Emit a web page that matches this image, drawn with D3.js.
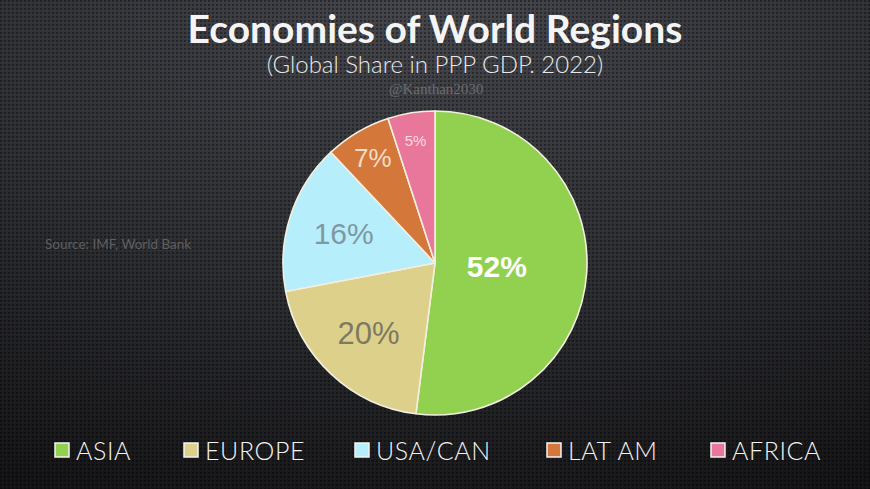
<!DOCTYPE html>
<html><head><meta charset="utf-8">
<script src="https://cdn.jsdelivr.net/npm/d3@7"></script>
<style>html,body{margin:0;padding:0;background:#222;}svg{display:block;}</style>
</head><body>
<script>
const categories = ["ASIA", "EUROPE", "USA/CAN", "LAT AM", "AFRICA"];
const values = [52, 20, 16, 7, 5];
const labels = ["52%", "20%", "16%", "7%", "5%"];
const colors = ["#92d050", "#ddd08a", "#b7eefb", "#d4773a", "#e8779b"];
const labelColors = ["#ffffff", "#7d7a62", "#7f98a2", "#f6ddc8", "#f9d9e2"];
const labelSizes = [30, 31, 30, 26, 15];
const labelWeights = ["bold", "normal", "normal", "normal", "normal"];
const labelRadii = [62, 97, 96, 122, 124];

const W = 870, H = 489;
const svg = d3.select("body").append("svg").attr("width", W).attr("height", H);
const defs = svg.append("defs");
const grad = defs.append("radialGradient").attr("id", "bg").attr("cx", "50%").attr("cy", "0%").attr("r", "110%");
grad.append("stop").attr("offset", "0%").attr("stop-color", "#45464b");
grad.append("stop").attr("offset", "55%").attr("stop-color", "#2c2d31");
grad.append("stop").attr("offset", "100%").attr("stop-color", "#131315");
const pat = defs.append("pattern").attr("id", "dots").attr("width", 4).attr("height", 4).attr("patternUnits", "userSpaceOnUse");
pat.append("rect").attr("x", 0).attr("y", 0).attr("width", 2).attr("height", 2).attr("fill", "#000").attr("opacity", 0.35);
pat.append("rect").attr("x", 2).attr("y", 2).attr("width", 1).attr("height", 1).attr("fill", "#fff").attr("opacity", 0.05);

svg.append("rect").attr("width", W).attr("height", H).attr("fill", "url(#bg)");
svg.append("rect").attr("width", W).attr("height", H).attr("fill", "url(#dots)");

const titleFont = "'Lato', 'Open Sans', sans-serif";
svg.append("text").attr("x", 435).attr("y", 43).attr("text-anchor", "middle")
  .attr("font-family", titleFont).attr("font-weight", "bold").attr("font-size", 39)
  .attr("fill", "#f4f4f4").text("Economies of World Regions");
svg.append("text").attr("x", 435).attr("y", 73).attr("text-anchor", "middle")
  .attr("font-family", titleFont).attr("font-weight", 300).attr("font-size", 24)
  .attr("fill", "#e8e8e8").text("(Global Share in PPP GDP. 2022)");
svg.append("text").attr("x", 436).attr("y", 94).attr("text-anchor", "middle")
  .attr("font-family", "'Liberation Serif', serif").attr("font-size", 15)
  .attr("fill", "#6c6c6c").text("@Kanthan2030");
svg.append("text").attr("x", 45).attr("y", 249)
  .attr("font-family", titleFont).attr("font-size", 13.5)
  .attr("fill", "#5e5e60").text("Source: IMF, World Bank");

const cx = 435, cy = 263, R = 152;
const pie = d3.pie().sort(null).value(d => d);
const arcs = pie(values);
const arc = d3.arc().innerRadius(0).outerRadius(R);
const g = svg.append("g").attr("transform", `translate(${cx},${cy})`);
g.selectAll("path").data(arcs).join("path")
  .attr("d", arc).attr("fill", (d, i) => colors[i])
  .attr("stroke", "#f3efe0").attr("stroke-width", 1.6).attr("stroke-linejoin", "round");
g.selectAll("text.lbl").data(arcs).join("text").attr("class", "lbl")
  .attr("transform", (d, i) => {
    const c = d3.arc().innerRadius(labelRadii[i]).outerRadius(labelRadii[i]).centroid(d);
    return `translate(${c[0]},${c[1]})`;
  })
  .attr("text-anchor", "middle").attr("dominant-baseline", "central")
  .attr("font-family", "'Liberation Sans', Arial, sans-serif")
  .attr("font-size", (d, i) => labelSizes[i]).attr("font-weight", (d, i) => labelWeights[i])
  .attr("fill", (d, i) => labelColors[i]).text((d, i) => labels[i]);

// legend
const legendPos = [55, 184, 355, 547, 711];
const lg = svg.append("g");
const items = lg.selectAll("g").data(categories).join("g")
  .attr("transform", (d, i) => `translate(${legendPos[i]},443)`);
items.append("rect").attr("width", 14).attr("height", 14)
  .attr("fill", (d, i) => colors[i]).attr("stroke", "#f4f4f4").attr("stroke-width", 1.5);
items.append("text").attr("x", 21).attr("y", 16.5)
  .attr("font-family", titleFont).attr("font-weight", 300).attr("font-size", 25)
  .attr("letter-spacing", 0.6)
  .attr("fill", "#f2f2f2").text(d => d);
</script>
</body></html>
